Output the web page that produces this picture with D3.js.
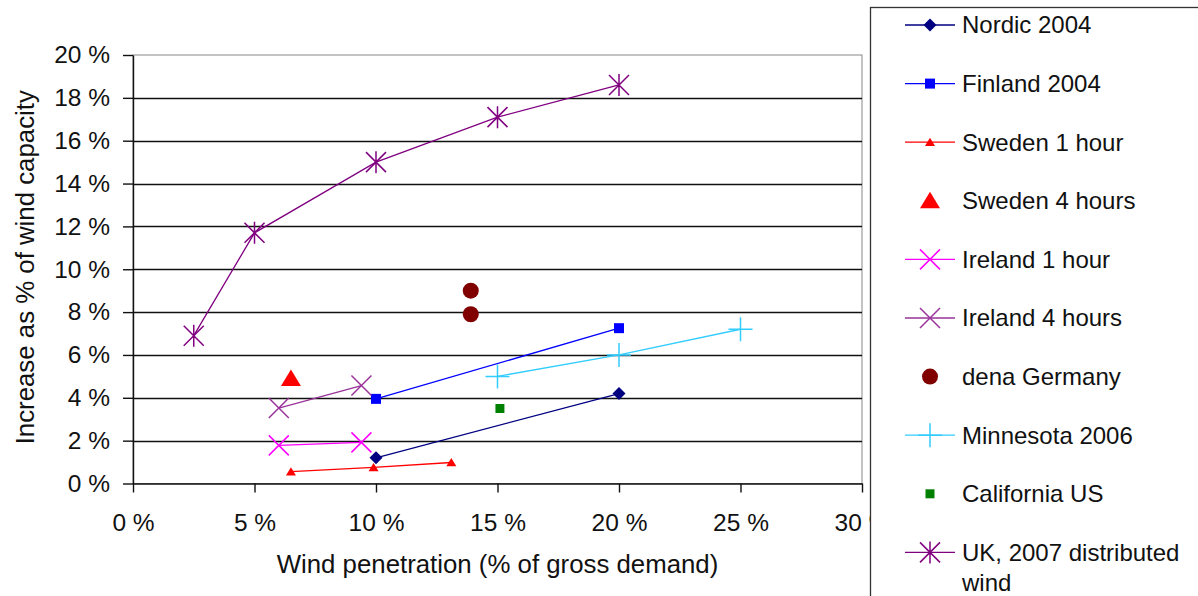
<!DOCTYPE html>
<html>
<head>
<meta charset="utf-8">
<script src="https://cdn.jsdelivr.net/npm/d3@7"></script>
<style>
  body { margin: 0; background: #fff; }
  text { font-family: "Liberation Sans", Arial, sans-serif; fill: #111; }
</style>
</head>
<body>
<div id="chart"></div>
<script>
// tick values
var xTicks = [0, 5, 10, 15, 20, 25, 30];
var yTicks = [0, 2, 4, 6, 8, 10, 12, 14, 16, 18, 20];

// series values, [wind penetration %, increase %]
var nordic2004 = [[10, 1.2], [20, 4.2]];
var finland2004 = [[10, 3.95], [20, 7.25]];
var sweden1h = [[6.5, 0.55], [9.9, 0.75], [13.1, 0.98]];
var sweden4h = [[6.5, 4.9]];
var ireland1h = [[6.0, 1.78], [9.4, 1.92]];
var ireland4h = [[6.0, 3.52], [9.4, 4.57]];
var denaGermany = [[13.9, 9.0], [13.9, 7.9]];
var minnesota2006 = [[15, 5.0], [20, 6.0], [25, 7.2]];
var californiaUS = [[15.1, 3.5]];
var uk2007 = [[2.5, 6.9], [5, 11.7], [10, 15.0], [15, 17.1], [20, 18.6]];

var seriesNames = ["Nordic 2004", "Finland 2004", "Sweden 1 hour", "Sweden 4 hours",
  "Ireland 1 hour", "Ireland 4 hours", "dena Germany", "Minnesota 2006",
  "California US", "UK, 2007 distributed wind"];

// styles for each series
var series = [
  {name: seriesNames[0], data: nordic2004, color: "#000080", line: true, mark: "diamond", size: 6.5},
  {name: seriesNames[1], data: finland2004, color: "#0000ff", line: true, mark: "square", size: 5},
  {name: seriesNames[2], data: sweden1h, color: "#ff0000", line: true, mark: "triangle", size: 5},
  {name: seriesNames[3], data: sweden4h, color: "#ff0000", line: false, mark: "triangle", size: 10},
  {name: seriesNames[4], data: ireland1h, color: "#ff00ff", line: true, mark: "x", size: 10},
  {name: seriesNames[5], data: ireland4h, color: "#993399", line: true, mark: "x", size: 10},
  {name: seriesNames[6], data: denaGermany, color: "#800000", line: false, mark: "circle", size: 8},
  {name: seriesNames[7], data: minnesota2006, color: "#33ccff", line: true, mark: "plus", size: 12},
  {name: seriesNames[8], data: californiaUS, color: "#008000", line: false, mark: "square", size: 4.5},
  {name: seriesNames[9], data: uk2007, color: "#800080", line: true, mark: "star", size: 10}
];

var svgWidth = 1198;
var svgHeight = 596;

var svg = d3.select("#chart")
  .append("svg")
  .attr("width", svgWidth)
  .attr("height", svgHeight);

svg.append("rect").attr("width", svgWidth).attr("height", svgHeight).attr("fill", "#fff");

var x = d3.scaleLinear().domain([0, 30]).range([133, 862]);
var y = d3.scaleLinear().domain([0, 20]).range([483.5, 55]);

// marker path, centred on 0,0
function markerPath(type, s) {
  if (type === "diamond") return "M0," + (-s) + "L" + s + ",0L0," + s + "L" + (-s) + ",0Z";
  if (type === "square") return "M" + (-s) + "," + (-s) + "h" + (2 * s) + "v" + (2 * s) + "h" + (-2 * s) + "Z";
  if (type === "triangle") return "M0," + (-s * 0.9) + "L" + s + "," + (s * 0.75) + "L" + (-s) + "," + (s * 0.75) + "Z";
  if (type === "circle") return d3.arc()({innerRadius: 0, outerRadius: s, startAngle: 0, endAngle: 2 * Math.PI});
  if (type === "x") return "M" + (-s) + "," + (-s) + "L" + s + "," + s + "M" + (-s) + "," + s + "L" + s + "," + (-s);
  if (type === "plus") return "M" + (-s) + ",0L" + s + ",0M0," + (-s) + "L0," + s;
  if (type === "star") return "M" + (-s) + "," + (-s) + "L" + s + "," + s + "M" + (-s) + "," + s + "L" + s + "," + (-s) + "M0," + (-s * 1.1) + "L0," + (s * 1.1);
}
function filled(type) {
  return type === "diamond" || type === "square" || type === "triangle" || type === "circle";
}

// plot border
svg.append("rect")
  .attr("x", x(0)).attr("y", y(20))
  .attr("width", x(30) - x(0)).attr("height", y(0) - y(20))
  .attr("fill", "none").attr("stroke", "#888").attr("stroke-width", 1);

// gridlines
svg.append("g").selectAll("line")
  .data(yTicks.filter(d => d > 0 && d < 20))
  .enter().append("line")
  .attr("x1", x(0)).attr("x2", x(30))
  .attr("y1", d => Math.round(y(d)) + 0.5).attr("y2", d => Math.round(y(d)) + 0.5)
  .attr("stroke", "#111").attr("stroke-width", 1.4);

// axes
var leftAxis = d3.axisLeft(y).tickValues(yTicks).tickFormat(d => d + " %")
  .tickSizeInner(10).tickSizeOuter(0).tickPadding(13);
var bottomAxis = d3.axisBottom(x).tickValues(xTicks).tickFormat(d => d + " %")
  .tickSizeInner(9).tickSizeOuter(0).tickPadding(21);

var gy = svg.append("g").attr("transform", "translate(" + x(0) + ",0)").call(leftAxis);
var gx = svg.append("g").attr("transform", "translate(0," + y(0) + ")").call(bottomAxis);
[gx, gy].forEach(function(g) {
  g.selectAll("path, line").attr("stroke", "#111").attr("stroke-width", 1.4);
  g.selectAll("text").attr("font-size", "24.5px").attr("fill", "#111")
    .attr("font-family", "'Liberation Sans', Arial, sans-serif");
});

// axis titles
svg.append("text")
  .attr("x", (x(0) + x(30)) / 2).attr("y", 573)
  .attr("text-anchor", "middle").attr("font-size", "25.8px")
  .text("Wind penetration (% of gross demand)");

svg.append("text")
  .attr("transform", "translate(34," + ((y(0) + y(20)) / 2 - 2) + ") rotate(-90)")
  .attr("text-anchor", "middle").attr("font-size", "25.8px")
  .text("Increase as % of wind capacity");

// series
var line = d3.line().x(d => x(d[0])).y(d => y(d[1]));
series.forEach(function(s) {
  var g = svg.append("g");
  if (s.line) {
    g.append("path").attr("d", line(s.data))
      .attr("fill", "none").attr("stroke", s.color).attr("stroke-width", 1.3);
  }
  g.selectAll("path.m").data(s.data).enter().append("path")
    .attr("class", "m")
    .attr("transform", d => "translate(" + x(d[0]) + "," + y(d[1]) + ")")
    .attr("d", markerPath(s.mark, s.size))
    .attr("fill", filled(s.mark) ? s.color : "none")
    .attr("stroke", s.color).attr("stroke-width", filled(s.mark) ? 0 : 1.5);
});

// legend
var legend = svg.append("g");
legend.append("rect")
  .attr("x", 870.5).attr("y", 7.5).attr("width", 400).attr("height", 700)
  .attr("fill", "#fff").attr("stroke", "#333").attr("stroke-width", 1.3);

series.forEach(function(s, i) {
  var cy = 25 + i * 58.6;
  var item = legend.append("g").attr("transform", "translate(0," + cy + ")");
  if (s.line) {
    item.append("line").attr("x1", 905).attr("x2", 955).attr("y1", 0).attr("y2", 0)
      .attr("stroke", s.color).attr("stroke-width", 1.3);
  }
  item.append("path")
    .attr("transform", "translate(930,0)")
    .attr("d", markerPath(s.mark, s.size))
    .attr("fill", filled(s.mark) ? s.color : "none")
    .attr("stroke", s.color).attr("stroke-width", filled(s.mark) ? 0 : 1.5);
  var words = s.name === "UK, 2007 distributed wind" ? ["UK, 2007 distributed", "wind"] : [s.name];
  words.forEach(function(w, j) {
    item.append("text").attr("x", 962).attr("y", j * 30)
      .attr("dy", "0.35em").attr("font-size", "24px").text(w);
  });
});
</script>
</body>
</html>
